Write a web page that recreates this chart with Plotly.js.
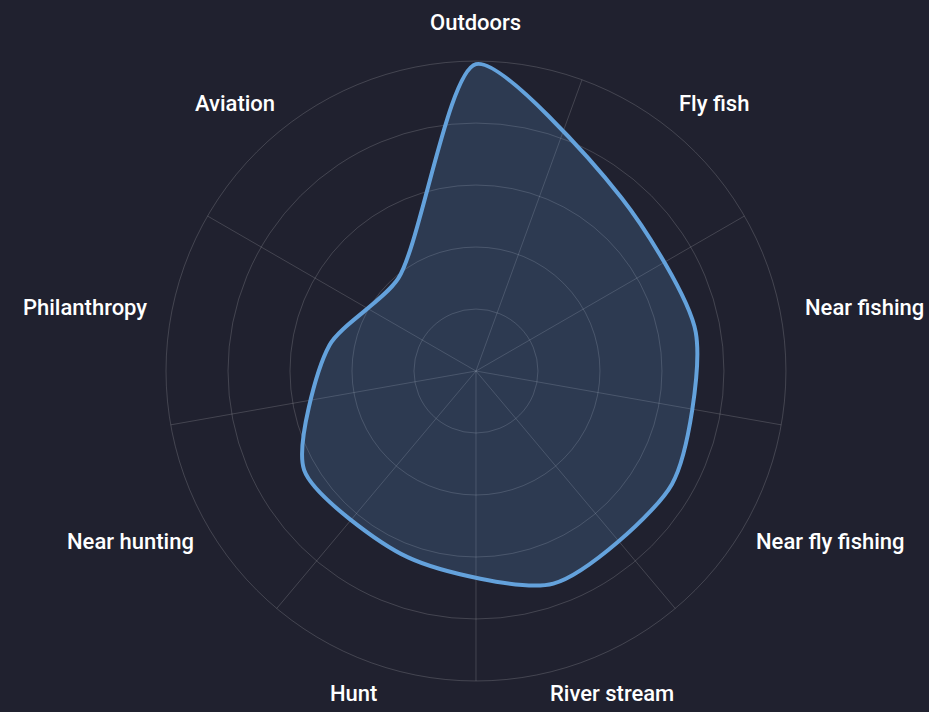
<!DOCTYPE html>
<html>
<head>
<meta charset="utf-8">
<script src="https://cdn.plot.ly/plotly-3.0.1.min.js"></script>
<style>
  html, body { margin: 0; padding: 0; background: #20212f; }
  #chart { width: 929px; height: 712px; }
</style>
</head>
<body>
<div id="chart"></div>
<script>
const categories = ['Outdoors', 'Fly fish', 'Near fishing', 'Near fly fishing', 'River stream', 'Hunt', 'Near hunting', 'Philanthropy', 'Aviation'];
const values = [99, 73, 72, 73, 73, 64, 64, 48, 39];
const radialMax = 100;
const radialStep = 20;

const W = 929, H = 712;
const bg = '#20212f';
const gridColor = 'rgba(255,255,255,0.16)';
const lineColor = '#64a2dc';
const labelFont = { family: 'Roboto, sans-serif', weight: 500, size: 22, color: '#ffffff' };

const closedTheta = categories.concat([categories[0]]);
const closedR = values.concat([values[0]]);

const domain = { x: [0.1787, 0.8460], y: [0.0435, 0.9143] };
const n = categories.length;
const stepDeg = 360 / n;

// label placement (outside the outer ring, boxes touching a circle)
const cx = (domain.x[0] + domain.x[1]) / 2 * W;
const cy = H - (domain.y[0] + domain.y[1]) / 2 * H;
const radiusPx = Math.min((domain.x[1] - domain.x[0]) * W, (domain.y[1] - domain.y[0]) * H) / 2;
const labelGap = 25;
const ctx = document.createElement('canvas').getContext('2d');
ctx.font = labelFont.weight + ' ' + labelFont.size + 'px Roboto';
const annotations = categories.map((label, i) => {
  const a = i * stepDeg * Math.PI / 180;
  const s = Math.sin(a), c = Math.cos(a);
  const w = ctx.measureText(label).width;
  const h = labelFont.size;
  const rr = radiusPx + labelGap;
  const px = cx + rr * s + (w / 2) * s;
  const py = cy - rr * c - (h / 2) * c;
  return {
    text: label,
    xref: 'paper', yref: 'paper',
    x: px / W, y: 1 - py / H,
    xanchor: 'center', yanchor: 'middle',
    yshift: 3,
    showarrow: false,
    font: labelFont
  };
});

const traces = [
  {
    type: 'scatterpolar',
    subplot: 'polar',
    r: [],
    theta: [],
    mode: 'lines',
    hoverinfo: 'skip',
    showlegend: false
  },
  {
    type: 'scatterpolar',
    subplot: 'polar2',
    r: closedR,
    theta: closedTheta,
    mode: 'lines',
    fill: 'toself',
    fillcolor: 'rgba(100,162,220,0.2)',
    line: { color: lineColor, width: 4, shape: 'spline', smoothing: 0.7 },
    hoverinfo: 'skip',
    showlegend: false
  }
];

const layout = {
  width: W,
  height: H,
  margin: { l: 0, r: 0, t: 0, b: 0 },
  paper_bgcolor: bg,
  plot_bgcolor: bg,
  showlegend: false,
  font: { family: 'Roboto, sans-serif', color: '#ffffff', size: 20 },
  annotations: annotations,
  polar: {
    domain: domain,
    bgcolor: 'rgba(0,0,0,0)',
    radialaxis: {
      range: [0, radialMax],
      dtick: radialStep,
      tick0: 0,
      showticklabels: false,
      ticks: '',
      showline: false,
      showgrid: true,
      gridcolor: gridColor,
      gridwidth: 1
    },
    angularaxis: {
      type: 'linear',
      thetaunit: 'degrees',
      rotation: 90,
      direction: 'clockwise',
      tickmode: 'linear',
      tick0: stepDeg / 2,
      dtick: stepDeg,
      showticklabels: false,
      ticks: '',
      showgrid: true,
      gridcolor: gridColor,
      gridwidth: 1,
      showline: true,
      linecolor: gridColor,
      linewidth: 1
    }
  },
  polar2: {
    domain: domain,
    bgcolor: 'rgba(0,0,0,0)',
    radialaxis: {
      range: [0, radialMax],
      visible: false,
      showgrid: false
    },
    angularaxis: {
      type: 'category',
      categoryarray: categories,
      rotation: 90,
      direction: 'clockwise',
      showgrid: false,
      showline: false,
      showticklabels: false,
      ticks: ''
    }
  }
};

Plotly.newPlot('chart', traces, layout, { displayModeBar: false, staticPlot: true });
</script>
</body>
</html>
